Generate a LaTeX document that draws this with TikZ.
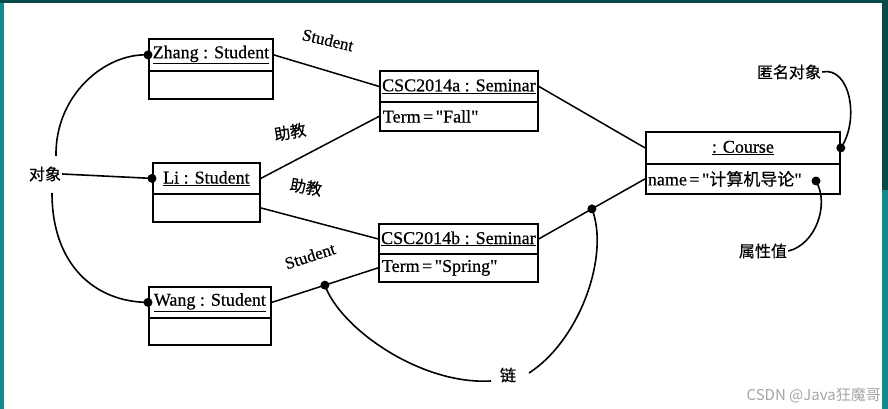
\documentclass[tikz,border=0pt]{standalone}
\usepackage{fontspec}
\setmainfont{Liberation Serif}[FakeBold=0.6]
\newfontfamily\cjk{Noto Sans CJK SC}[FakeBold=0.5]
\newfontfamily\wmfont{Noto Sans CJK SC}
\usetikzlibrary{calc}
\definecolor{tealbar}{HTML}{12898A}
\definecolor{darkbar}{HTML}{0B4A4A}
\definecolor{wm}{HTML}{A6A6A6}
\newcommand{\qq}{\textquotedbl}
\newcommand{\eqs}{\hspace{2.5pt}=\hspace{2.5pt}}
\begin{document}
\begin{tikzpicture}[x=1pt,y=-1pt,
  box/.style={draw, line width=1.8pt, anchor=north west, inner sep=0pt, font=\fontsize{18}{20}\selectfont},
  attbox/.style={box, inner xsep=3pt, align=left},
  lnk/.style={line width=1.5pt},
  call/.style={line width=1.6pt},
  dot/.style={circle, fill, inner sep=0pt, minimum size=9pt},
  lbl/.style={font=\fontsize{17}{19}\selectfont, inner sep=1pt},
  cn/.style={font=\cjk\fontsize{16}{18}\selectfont, inner sep=1pt},
]
\useasboundingbox (0,0) rectangle (888,409);
\fill[white] (0,0) rectangle (888,409);
\fill[tealbar] (0,0) rectangle (4,409);
\fill[tealbar] (882,0) rectangle (888,409);
\fill[darkbar] (0,0) rectangle (888,3);
\fill[darkbar] (882,0) rectangle (888,190);

% objects
\node[box, minimum width=124pt, minimum height=32pt] (zt) at (148,38) {\underline{Zhang : Student}};
\node[box, minimum width=124pt, minimum height=28pt] (zb) at (148,70) {};
\node[box, minimum width=107pt, minimum height=31pt] (lt) at (152,162) {\underline{Li : Student}};
\node[box, minimum width=107pt, minimum height=28pt] (lb) at (152,193) {};
\node[box, minimum width=122pt, minimum height=31pt] (wt) at (148,286) {\underline{Wang : Student}};
\node[box, minimum width=122pt, minimum height=27pt] (wb) at (148,317) {};
\node[box, minimum width=158pt, minimum height=31pt] (at) at (379,70) {\underline{CSC2014a : Seminar}};
\node[attbox, text width=152pt, minimum height=29pt] (ab) at (379,101) {Term\eqs\qq Fall\qq};
\node[box, minimum width=159pt, minimum height=30pt] (bt) at (378,223) {\underline{CSC2014b : Seminar}};
\node[attbox, text width=153pt, minimum height=28pt] (bb) at (378,253) {Term\eqs\qq Spring\qq};
\node[box, minimum width=194pt, minimum height=32pt] (ct) at (645,131) {\underline{: Course}};
\node[attbox, inner xsep=2pt, text width=190pt, minimum height=30pt] (cb) at (645,163) {name\eqs\qq{\cjk\fontsize{17}{20}\selectfont 计算机导论}\qq};

% links
\draw[lnk] (zt.east) -- (at.west);
\draw[lnk] (lt.east) -- (ab.west);
\draw[lnk] (lb.east) -- (bt.west);
\draw[lnk] (wt.east) -- coordinate[pos=0.5] (l1) (bb.west);
\draw[lnk] (at.east) -- (ct.west);
\draw[lnk] (bt.east) -- coordinate[pos=0.5] (l2) (cb.west);

% link labels
\node[lbl, rotate=-13] (s1) at (328,40) {Student};
\node[cn, rotate=10] (h1) at (290,132) {助教};
\node[cn, rotate=-10] (h2) at (306,187) {助教};
\node[lbl, rotate=18] (s2) at (310,256) {Student};

% callout labels
\node[cn] (obj) at (45,174) {对象};
\node[cn] (lk) at (508,375) {链};
\node[cn] (an) at (789,72) {匿名对象};
\node[cn] (av) at (763,251) {属性值};

% dots
\node[dot] (d1) at (zt.west) {};
\node[dot] (d2) at (lt.west) {};
\node[dot] (d3) at (wt.west) {};
\node[dot] (d4) at (l1) {};
\node[dot] (d5) at (l2) {};
\node[dot] (d6) at (ct.east) {};
\node[dot] (d7) at (816,181) {};

% callout curves
\coordinate (o1) at (56,156);
\coordinate (o2) at (52,193);
\coordinate (k1) at (491,381);
\coordinate (k2) at (529,373);
\draw[call] (o1) .. controls (55,95) and (105,53) .. (d1.center);
\draw[call] (obj.east) -- (d2.center);
\draw[call] (o2) .. controls (52,265) and (95,302) .. (d3.center);
\draw[call] (d4.center) .. controls (340,328) and (420,385) .. (k1);
\draw[call] (k2) .. controls (580,340) and (610,255) .. (d5.center);
\draw[call] (an.east) .. controls (850,66) and (860,120) .. (d6.center);
\draw[call] (av.east) .. controls (815,245) and (830,205) .. (d7.center);

% watermark
\node[font=\wmfont\fontsize{15}{17}\selectfont, text=wm, anchor=base east, inner sep=0pt] (wmk) at (881,400) {CSDN @Java狂魔哥};
\end{tikzpicture}
\end{document}
